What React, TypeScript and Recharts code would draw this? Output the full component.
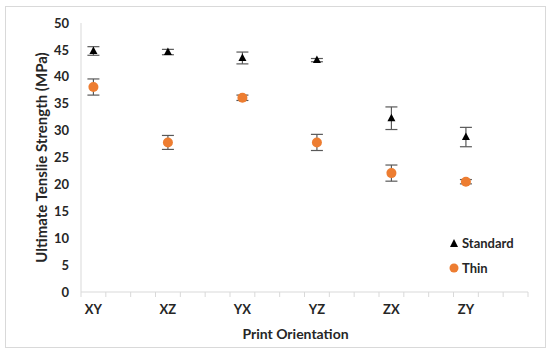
import { ScatterChart, Scatter, XAxis, YAxis, ErrorBar, Label } from "recharts";

const categories = ["XY", "XZ", "YX", "YZ", "ZX", "ZY"];
const standardMean = [44.8, 44.6, 43.5, 43.1, 32.3, 28.8];
const standardErr = [0.8, 0.5, 1.1, 0.3, 2.1, 1.8];
const thinMean = [38.1, 27.8, 36.1, 27.8, 22.1, 20.5];
const thinErr = [1.5, 1.3, 0.5, 1.5, 1.5, 0.4];
const yTicks = [0, 5, 10, 15, 20, 25, 30, 35, 40, 45, 50];

const standardData = categories.map((c, i) => ({ x: i, y: standardMean[i], err: standardErr[i], name: c }));
const thinData = categories.map((c, i) => ({ x: i, y: thinMean[i], err: thinErr[i], name: c }));

// minor tick marks sit every third of a category, labels sit on the category
const xMin = -1 / 6;
const xMax = categories.length - 1 / 6;
const markTicks = Array.from({ length: 3 * categories.length + 1 }, (_, k) => xMin + k / 3);
const xTicks = [...markTicks, ...categories.map((_, i) => i)].sort((a, b) => a - b);

const FONT = "Lato, 'Open Sans', sans-serif";
const TEXT = "#262626";
const AXIS = "#d9d9d9";
const ORANGE = "#ED7D31";

const Triangle = (props: any) => {
  const { cx, cy } = props;
  if (cx == null || cy == null) return null;
  return <polygon points={`${cx},${cy - 4.5} ${cx - 4},${cy + 3} ${cx + 4},${cy + 3}`} fill="#000" />;
};

const Dot = (props: any) => {
  const { cx, cy } = props;
  if (cx == null || cy == null) return null;
  return <circle cx={cx} cy={cy} r={5} fill={ORANGE} />;
};

const XTick = (props: any) => {
  const { x, y, payload } = props;
  const v = payload.value;
  if (Number.isInteger(v)) {
    return (
      <text x={x} y={y + 22} textAnchor="middle" fill={TEXT} fontSize={13} fontWeight="bold" fontFamily={FONT}>
        {categories[v]}
      </text>
    );
  }
  return <line x1={x} y1={y} x2={x} y2={y + 5} stroke={AXIS} strokeWidth={1} />;
};

const LegendBox = () => (
  <div
    style={{
      position: "absolute",
      left: 449,
      top: 230,
      fontFamily: FONT,
      fontWeight: "bold",
      fontSize: 13,
      color: TEXT,
    }}
  >
    <div style={{ display: "flex", alignItems: "center", height: 25 }}>
      <svg width={10} height={10} style={{ marginRight: 3 }}>
        <polygon points="5,1 1,9 9,9" fill="#000" />
      </svg>
      Standard
    </div>
    <div style={{ display: "flex", alignItems: "center", height: 25 }}>
      <svg width={10} height={10} style={{ marginRight: 3 }}>
        <circle cx={5} cy={5} r={4.5} fill={ORANGE} />
      </svg>
      Thin
    </div>
  </div>
);

export default function App() {
  return (
    <div style={{ position: "absolute", left: 0, top: 0, width: 550, height: 355, background: "#fff" }}>
      <div
        style={{
          position: "absolute",
          left: 5,
          top: 6,
          width: 539,
          height: 340,
          border: "1px solid #d9d9d9",
        }}
      />
      <ScatterChart width={550} height={355} margin={{ top: 23, right: 22, bottom: 33, left: 0 }}>
        <XAxis
          type="number"
          dataKey="x"
          domain={[xMin, xMax]}
          ticks={xTicks}
          interval={0}
          height={30}
          tick={<XTick />}
          tickLine={false}
          tickSize={0}
          tickMargin={0}
          axisLine={{ stroke: AXIS }}
          allowDataOverflow
        >
          <Label
            value="Print Orientation"
            position="bottom"
            offset={7}
            dx={-9}
            fill={TEXT}
            fontSize={14}
            fontWeight="bold"
            fontFamily={FONT}
          />
        </XAxis>
        <YAxis
          type="number"
          dataKey="y"
          domain={[0, 50]}
          ticks={yTicks}
          width={81}
          tickLine={false}
          tickSize={0}
          tickMargin={12}
          axisLine={{ stroke: AXIS }}
          tick={{ fill: TEXT, fontSize: 13, fontWeight: "bold", fontFamily: FONT }}
        >
          <Label
            value="Ultimate Tenslie Strength (MPa)"
            angle={-90}
            position="center"
            dx={1}
            fill={TEXT}
            fontSize={15}
            fontWeight="bold"
            fontFamily={FONT}
          />
        </YAxis>
        <Scatter name="Standard" data={standardData} shape={<Triangle />} isAnimationActive={false}>
          <ErrorBar dataKey="err" direction="y" width={6} stroke="#595959" strokeWidth={1.2} />
        </Scatter>
        <Scatter name="Thin" data={thinData} shape={<Dot />} isAnimationActive={false}>
          <ErrorBar dataKey="err" direction="y" width={6} stroke="#595959" strokeWidth={1.2} />
        </Scatter>
      </ScatterChart>
      <LegendBox />
    </div>
  );
}
